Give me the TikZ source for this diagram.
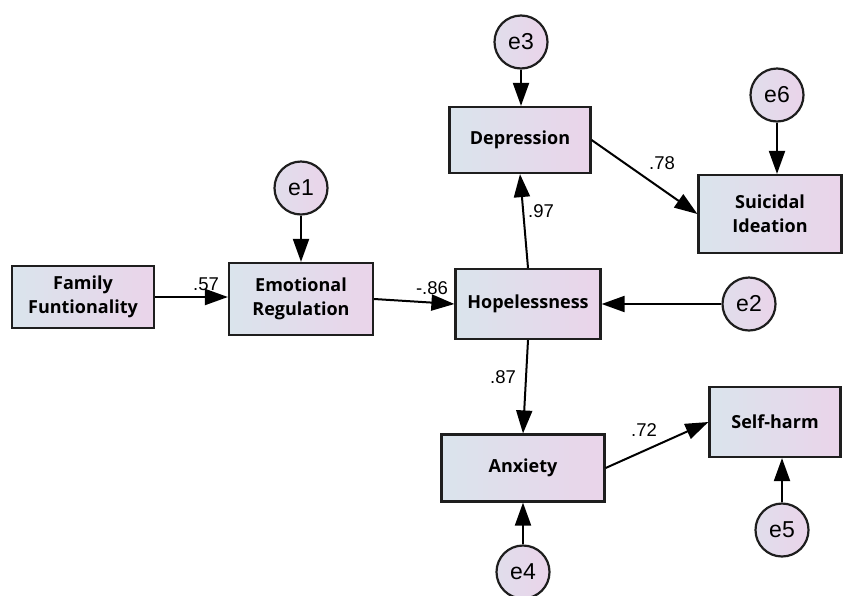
\documentclass[tikz,border=0pt]{standalone}
\usepackage{fontspec}
\setmainfont{Open Sans}
\newfontfamily\labfont{Liberation Sans}
\usetikzlibrary{arrows.meta}
\definecolor{lc}{RGB}{218,228,236}
\definecolor{rc}{RGB}{234,212,234}
\definecolor{bd}{RGB}{30,30,30}
\tikzset{
  box/.style={draw=bd, line width=2.2pt, left color=lc, right color=rc, align=center,
    font=\bfseries\fontsize{18}{24}\selectfont, inner sep=0pt},
  err/.style={circle, draw=bd, line width=2.2pt, left color=lc!60!rc, right color=rc, minimum size=53pt,
    inner sep=0pt, font=\fontsize{23}{26}\selectfont\labfont},
  arr/.style={line width=2pt, draw=black, -{Triangle[length=23pt, width=16pt]}},
  lab/.style={font=\fontsize{18.5}{21}\selectfont\labfont, inner sep=0pt}
}
\begin{document}
\begin{tikzpicture}[x=1pt, y=-1pt]
\useasboundingbox (0,0) rectangle (850,595);
% boxes
\node[box, minimum width=142pt, minimum height=62pt] (ff) at (83,297) {Family\\Funtionality};
\node[box, minimum width=144pt, minimum height=72pt] (emo) at (301,299) {Emotional\\Regulation};
\node[box, minimum width=145pt, minimum height=70pt] (hope) at (528,304) {Hopelessness};
\node[box, minimum width=141pt, minimum height=66pt] (dep) at (520,140) {Depression};
\node[box, minimum width=143pt, minimum height=78pt] (sui) at (770,214) {Suicidal\\Ideation};
\node[box, minimum width=163pt, minimum height=67pt] (anx) at (523,468) {Anxiety};
\node[box, minimum width=131pt, minimum height=70pt] (sh) at (775,422) {Self-harm};
% errors
\node[err] (e1) at (301,188) {e1};
\node[err] (e2) at (749,304) {e2};
\node[err] (e3) at (521,42) {e3};
\node[err] (e4) at (523,572) {e4};
\node[err] (e5) at (782,530) {e5};
\node[err] (e6) at (777,95) {e6};
% paths
\draw[arr] (ff.east) -- (ff.east -| emo.west);
\draw[arr] (emo.east) -- (hope.west);
\draw[arr] (hope.north) -- (dep.south);
\draw[arr] (dep.east) -- (sui.west);
\draw[arr] (hope.south) -- (anx.north);
\draw[arr] (anx.east) -- (sh.west);
\draw[arr] (e1) -- (emo);
\draw[arr] (e2) -- (hope);
\draw[arr] (e3) -- (dep.north -| e3);
\draw[arr] (e4) -- (anx);
\draw[arr] (e5) -- (sh.south -| e5);
\draw[arr] (e6) -- (sui.north -| e6);
% labels
\node[lab] (l1) at (206,284) {.57};
\node[lab] (l2) at (432,288) {-.86};
\node[lab] (l3) at (541,211) {.97};
\node[lab] (l4) at (662,163) {.78};
\node[lab] (l5) at (503,377) {.87};
\node[lab] (l6) at (644,430) {.72};
\end{tikzpicture}
\end{document}
